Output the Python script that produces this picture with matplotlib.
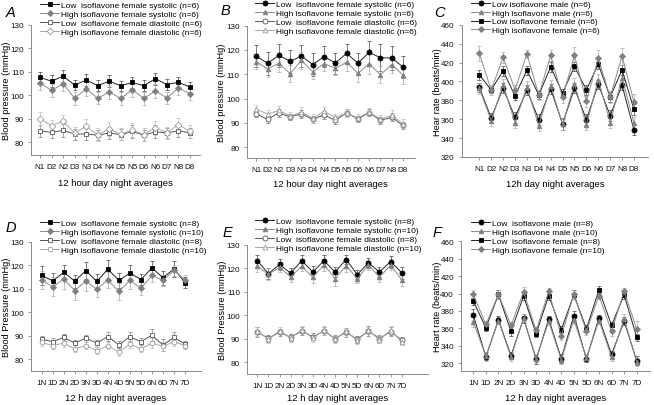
import matplotlib
matplotlib.use('Agg')
import matplotlib.pyplot as plt

plt.rcParams['font.family'] = ['Liberation Sans', 'DejaVu Sans']

W, H = 654, 406

ticks_nd = ['N1', 'D2', 'N2', 'D3', 'N3', 'D4', 'N4', 'D5', 'N5', 'D6', 'N6', 'D7', 'N8', 'D8']
ticks_dn = ['1N', '1D', '2N', '2D', '3N', '3D', '4N', '4D', '5N', '5D', '6N', '6D', '7N', '7D']

# panel A
a_low_sys = [107.6, 105.9, 108.1, 104.3, 106.4, 104.1, 105.9, 104.0, 105.4, 104.0, 107.0, 104.5, 105.5, 103.4]
a_low_sys_err = [2.3, 2.5, 2.6, 2.2, 2.6, 2.3, 2.5, 2.2, 2.4, 2.3, 2.6, 2.3, 2.4, 2.0]
a_high_sys = [105.2, 102.0, 104.8, 98.7, 102.6, 98.7, 101.3, 98.6, 102.3, 98.6, 101.8, 98.8, 103.0, 100.6]
a_high_sys_err = [3.0, 2.8, 3.2, 2.7, 3.0, 2.6, 3.0, 2.8, 3.0, 2.7, 3.0, 2.6, 3.0, 2.6]
a_low_dia = [84.8, 84.1, 85.0, 83.4, 83.5, 82.9, 83.9, 83.1, 84.6, 82.9, 84.4, 83.9, 84.8, 83.9]
a_low_dia_err = [2.6, 2.4, 2.8, 2.3, 2.5, 2.2, 2.6, 2.4, 2.8, 2.3, 2.7, 2.3, 2.6, 2.3]
a_high_dia = [89.9, 87.0, 88.9, 83.9, 86.7, 83.1, 85.6, 83.4, 85.1, 83.2, 86.1, 84.0, 87.4, 84.6]
a_high_dia_err = [2.8, 2.5, 2.8, 2.6, 3.2, 2.7, 3.0, 2.7, 3.0, 2.6, 3.0, 2.6, 3.0, 2.8]

# panel B
b_low_sys = [117.5, 114.5, 117.8, 115.3, 117.5, 114.0, 117.3, 114.6, 118.6, 114.6, 119.0, 116.8, 116.7, 113.0]
b_low_sys_err = [4.5, 4.8, 4.8, 4.8, 4.5, 4.8, 4.5, 4.3, 4.0, 4.3, 4.8, 5.5, 4.8, 4.5]
b_high_sys = [115.2, 112.2, 114.5, 110.3, 115.7, 111.0, 114.4, 112.5, 114.9, 110.4, 114.3, 109.8, 114.0, 109.6]
b_high_sys_err = [3.0, 3.2, 3.5, 3.5, 3.5, 3.0, 3.0, 3.0, 3.5, 3.5, 4.0, 3.5, 3.5, 3.5]
b_low_dia = [93.7, 91.4, 94.1, 92.4, 93.7, 91.4, 93.3, 91.0, 94.1, 91.6, 94.2, 91.0, 92.3, 88.9]
b_low_dia_err = [1.5, 1.5, 1.6, 1.4, 1.6, 1.5, 1.6, 1.4, 1.5, 1.4, 1.5, 1.4, 1.6, 1.5]
b_high_dia = [95.6, 93.6, 95.1, 92.8, 94.4, 91.9, 94.7, 92.2, 94.0, 92.0, 94.4, 91.5, 93.2, 89.6]
b_high_dia_err = [1.8, 1.6, 1.8, 1.5, 2.2, 1.8, 1.8, 1.6, 1.8, 1.6, 1.8, 1.6, 2.0, 1.8]

# panel C
c_low_male = [393.8, 361.2, 393.0, 361.8, 390.9, 359.5, 392.0, 355.0, 393.0, 359.5, 397.0, 363.8, 396.0, 348.5]
c_low_male_err = [5, 5, 5, 6, 5, 6, 5, 6, 5, 6, 5, 6, 5, 5]
c_high_male = [392.5, 358.5, 396.5, 356.5, 394.0, 353.0, 395.5, 354.5, 397.5, 353.5, 402.0, 356.5, 404.0, 356.0]
c_high_male_err = [6, 6, 6, 6, 6, 5, 6, 6, 6, 5, 6, 6, 6, 6]
c_low_fem = [407.0, 391.0, 411.2, 384.8, 411.8, 385.6, 415.4, 387.6, 415.8, 391.0, 418.2, 383.6, 412.3, 370.3]
c_low_fem_err = [5, 3, 5, 5, 5, 4, 5, 4, 5, 5, 5, 5, 5, 6]
c_high_fem = [429.8, 390.8, 425.6, 391.2, 429.0, 385.6, 427.6, 383.0, 427.7, 378.9, 424.3, 383.6, 426.8, 378.2]
c_high_fem_err = [8, 5, 6, 5, 4, 5, 6, 6, 9, 6, 9, 6, 9, 8]

# panel D
d_low_sys = [115.8, 113.4, 117.1, 113.3, 117.8, 113.2, 118.4, 113.6, 116.8, 114.0, 118.9, 114.8, 118.5, 112.7]
d_low_sys_err = [4.0, 3.2, 3.0, 2.8, 3.5, 3.0, 4.0, 3.0, 3.5, 2.5, 3.0, 3.0, 3.5, 2.5]
d_high_sys = [113.8, 110.9, 114.1, 109.3, 113.3, 109.9, 113.8, 108.9, 113.6, 110.3, 115.8, 113.6, 117.9, 113.9]
d_high_sys_err = [4.0, 4.0, 4.0, 4.0, 4.0, 3.5, 3.5, 3.5, 3.5, 3.0, 3.0, 2.5, 2.5, 2.0]
d_low_dia = [88.6, 87.5, 89.3, 86.9, 89.0, 86.9, 89.7, 86.2, 89.6, 87.5, 90.3, 86.1, 89.3, 86.5]
d_low_dia_err = [1.5, 1.5, 1.5, 1.5, 1.5, 1.5, 2.0, 1.5, 2.0, 1.5, 2.5, 2.5, 2.5, 1.5]
d_high_dia = [87.2, 85.8, 86.9, 84.4, 85.8, 83.7, 85.8, 83.0, 86.5, 84.4, 86.9, 85.5, 87.5, 85.8]
d_high_dia_err = [1.5, 1.5, 1.5, 1.5, 1.5, 1.5, 1.5, 1.5, 1.5, 1.5, 2.0, 2.0, 2.0, 1.5]

# panel E
e_low_sys = [123.2, 117.7, 121.6, 117.9, 123.2, 118.4, 123.2, 118.4, 123.7, 117.3, 122.3, 118.4, 122.8, 118.1]
e_low_sys_err = [2.5, 2.5, 2.5, 2.0, 2.5, 2.5, 2.5, 2.0, 2.0, 2.0, 2.0, 2.0, 2.5, 2.5]
e_high_sys = [120.9, 117.4, 120.4, 116.3, 120.8, 116.1, 121.5, 115.5, 121.1, 115.5, 121.4, 116.2, 121.3, 115.1]
e_high_sys_err = [2.5, 2.5, 2.0, 2.0, 2.0, 2.5, 2.5, 3.0, 2.5, 2.0, 2.0, 2.0, 2.0, 2.5]
e_low_dia = [92.8, 90.2, 92.8, 90.6, 93.3, 90.8, 93.3, 90.1, 92.7, 89.8, 93.3, 90.1, 93.0, 89.4]
e_low_dia_err = [2.0, 1.5, 1.5, 1.5, 1.5, 1.5, 1.5, 1.5, 2.0, 1.5, 2.0, 1.5, 2.0, 1.5]
e_high_dia = [93.2, 89.8, 93.4, 90.3, 93.8, 90.3, 93.6, 89.8, 93.2, 89.3, 93.6, 89.6, 93.6, 88.8]
e_high_dia_err = [2.0, 1.5, 1.5, 1.5, 1.5, 1.5, 2.0, 1.5, 1.5, 1.5, 1.5, 1.5, 2.0, 1.5]

# panel F
f_low_male = [375.0, 327.2, 369.8, 328.7, 371.4, 324.5, 370.6, 325.3, 374.7, 325.0, 371.9, 330.0, 368.3, 322.8]
f_low_male_err = [7, 4, 4, 4, 5, 5, 4, 5, 5, 4, 4, 4, 5, 5]
f_high_male = [367.5, 328.0, 369.0, 327.0, 372.0, 325.0, 368.0, 324.0, 370.0, 326.0, 369.0, 327.0, 371.0, 321.5]
f_high_male_err = [6, 5, 4, 5, 5, 5, 4, 5, 5, 5, 4, 5, 5, 5]
f_low_fem = [391.2, 360.7, 398.9, 356.5, 397.0, 353.8, 397.7, 358.4, 398.5, 359.5, 404.2, 363.5, 398.5, 350.0]
f_low_fem_err = [4, 4, 5, 5, 5, 4, 5, 4, 5, 4, 5, 4, 5, 4]
f_high_fem = [398.9, 364.5, 398.9, 363.4, 402.0, 357.6, 402.5, 351.1, 398.9, 356.5, 397.5, 356.5, 402.7, 359.0]
f_high_fem_err = [5, 4, 5, 4, 5, 4, 4, 5, 5, 4, 4, 5, 4, 9]

# (face, edge, line, errorbar)
BLACK = ('k', 'k', '#222222', '#444444')
GREY = ('#808080', '#808080', '#8c8c8c', '#a8a8a8')
OPEN_DARK = ('white', '#555555', '#555555', '#808080')
OPEN_LIGHT = ('white', '#9a9a9a', '#a8a8a8', '#bbbbbb')


def rect(x0, x1, ytop, ybot):
    return [x0 / W, 1 - ybot / H, (x1 - x0) / W, (ybot - ytop) / H]


def panel(r, xlim, ylim, yticks, xticks, series, xlabel, ylabel,
          letter, letter_xy, ylab_x, leg_xy, lpad=5.5):
    ax = fig.add_axes(r)
    x = list(range(len(xticks)))
    handles = []
    for y, err, lab, mk, ms, sty in series:
        fc, ec, lc, erc = sty
        ax.errorbar(x, y, yerr=err, fmt='none', ecolor=erc, elinewidth=0.5,
                    capsize=1.4, capthick=0.5, clip_on=False, zorder=2)
        h, = ax.plot(x, y, color=lc, lw=0.7, marker=mk, ms=ms, mfc=fc,
                     mec=ec, mew=0.6, clip_on=False, zorder=3, label=lab)
        handles.append(h)
    ax.set_xlim(*xlim)
    ax.set_ylim(*ylim)
    ax.set_yticks(yticks)
    ax.set_xticks(x)
    ax.set_xticklabels(xticks)
    for s in ['top', 'right']:
        ax.spines[s].set_visible(False)
    for s in ['left', 'bottom']:
        ax.spines[s].set_color('#8a8a8a')
        ax.spines[s].set_linewidth(0.7)
    ax.tick_params(direction='out', length=2.5, width=0.6, color='#8a8a8a',
                   labelsize=5.9, pad=2.5, labelcolor='#111111')
    ax.tick_params(axis='x', pad=3.2)
    ax.set_xlabel(xlabel, fontsize=6.8, labelpad=lpad)
    fig.text(ylab_x / W, r[1] + r[3] / 2, ylabel, rotation=90, fontsize=6.7,
             ha='center', va='center')
    fig.text(letter_xy[0] / W, 1 - letter_xy[1] / H, letter, fontsize=10.5,
             style='italic', ha='left', va='center')
    ax.legend(handles=handles, loc='upper left',
              bbox_to_anchor=(leg_xy[0] / W, 1 - leg_xy[1] / H),
              bbox_transform=fig.transFigure, frameon=False, fontsize=6.0,
              handlelength=2.3, handletextpad=0.25, labelspacing=0.12,
              borderpad=0, borderaxespad=0)
    return ax


fig = plt.figure(figsize=(W / 100, H / 100), dpi=100)

panel(rect(31, 200, 25.7, 156), (-0.78, 13.87), (74.5, 130), [80, 90, 100, 110, 120, 130], ticks_nd,
      [(a_low_sys, a_low_sys_err, 'Low  isoflavone female systolic (n=6)', 's', 3.4, BLACK),
       (a_high_sys, a_high_sys_err, 'High isoflavone female systolic (n=6)', 'D', 3.1, GREY),
       (a_low_dia, a_low_dia_err, 'Low  isoflavone female diastolic (n=6)', 's', 3.4, OPEN_DARK),
       (a_high_dia, a_high_dia_err, 'High isoflavone female diastolic (n=6)', 'D', 3.4, OPEN_LIGHT)],
      '12 hour day night averages', 'Blood pressure (mmHg)', 'A', (6, 13), 7, (40, 2.5))

panel(rect(246.7, 415, 26.7, 159), (-0.85, 14.06), (75.5, 130), [80, 90, 100, 110, 120, 130], ticks_nd,
      [(b_low_sys, b_low_sys_err, 'Low  isoflavone female systolic (n=6)', 'o', 3.6, BLACK),
       (b_high_sys, b_high_sys_err, 'High isoflavone female systolic (n=6)', '^', 3.3, GREY),
       (b_low_dia, b_low_dia_err, 'Low  isoflavone female diastolic (n=6)', 'o', 3.6, OPEN_DARK),
       (b_high_dia, b_high_dia_err, 'High isoflavone female diastolic (n=6)', '^', 3.4, OPEN_LIGHT)],
      '12 hour day night averages', 'Blood pressure (mmHg)', 'B', (221, 11), 222, (255, 1.5), 4.5)

panel(rect(461.7, 648, 25.7, 158), (-1.48, 14.18), (320, 460), [320, 340, 360, 380, 400, 420, 440, 460], ticks_nd,
      [(c_low_male, c_low_male_err, 'Low isoflavone male (n=6)', 'o', 3.6, BLACK),
       (c_high_male, c_high_male_err, 'High isoflavone male (n=6)', '^', 3.3, GREY),
       (c_low_fem, c_low_fem_err, 'Low isoflavone female (n=6)', 's', 3.4, BLACK),
       (c_high_fem, c_high_fem_err, 'High isoflavone female (n=6)', 'D', 3.1, GREY)],
      '12h day night averages', 'Hear rate (beats/min)', 'C', (434, 13), 437, (471, 1), 5.0)

panel(rect(31, 201, 243, 372), (-0.97, 14.45), (75, 130), [80, 90, 100, 110, 120, 130], ticks_dn,
      [(d_low_sys, d_low_sys_err, 'Low  isoflavone female systolic (n=8)', 's', 3.4, BLACK),
       (d_high_sys, d_high_sys_err, 'High isoflavone female systolic (n=10)', 'D', 3.1, GREY),
       (d_low_dia, d_low_dia_err, 'Low  isoflavone female diastolic (n=8)', 's', 3.4, OPEN_DARK),
       (d_high_dia, d_high_dia_err, 'High isoflavone female diastolic (n=10)', 'o', 3.4, OPEN_LIGHT)],
      '12 h day night averages', 'Blood Pressure (mmHg)', 'D', (6, 228), 7, (40, 220.5), 5.0)

panel(rect(247, 428, 245.7, 375), (-0.93, 15.37), (75, 130), [80, 90, 100, 110, 120, 130], ticks_dn,
      [(e_low_sys, e_low_sys_err, 'Low  isoflavone female systolic (n=8)', 'o', 3.6, BLACK),
       (e_high_sys, e_high_sys_err, 'High isoflavone female systolic (n=10)', '^', 3.3, GREY),
       (e_low_dia, e_low_dia_err, 'Low  isoflavone female diastolic (n=8)', 'o', 3.6, OPEN_DARK),
       (e_high_dia, e_high_dia_err, 'High isoflavone female diastolic (n=10)', '^', 3.4, OPEN_LIGHT)],
      '12 h day night averages', 'Blood Pressure (mmHg)', 'E', (223, 233), 223, (255, 218.5), 3.0)

panel(rect(461, 650, 242.3, 372), (-0.98, 14.06), (311, 460), [320, 340, 360, 380, 400, 420, 440, 460], ticks_dn,
      [(f_low_male, f_low_male_err, 'Low  isoflavone male (n=8)', 'o', 3.6, BLACK),
       (f_high_male, f_high_male_err, 'High isoflavone male (n=10)', '^', 3.3, GREY),
       (f_low_fem, f_low_fem_err, 'Low  isoflavone female (n=8)', 's', 3.4, BLACK),
       (f_high_fem, f_high_fem_err, 'High isoflavone female (n=10)', 'D', 3.1, GREY)],
      '12 h day night averages', 'Heart rate (beats/min)', 'F', (433, 233), 437, (471, 220.5), 5.0)

fig.savefig('out.png', dpi=100)
